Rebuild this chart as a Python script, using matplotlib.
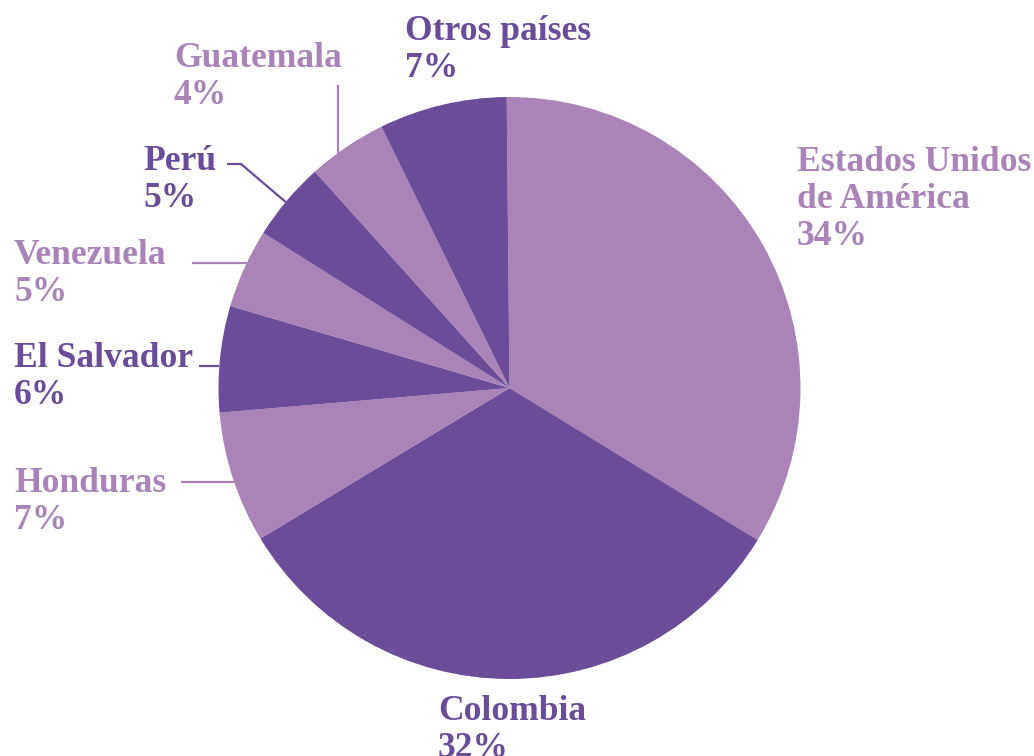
import numpy as np
import matplotlib
matplotlib.use("Agg")
import matplotlib.pyplot as plt

# ---- data ----
countries = ["Estados Unidos\nde América", "Colombia", "Honduras", "El Salvador",
             "Venezuela", "Perú", "Guatemala", "Otros países"]
shares = [33.9, 32.6, 7.3, 5.9, 4.4, 4.4, 4.4, 7.1]   # wedge sizes as drawn
pct_labels = ["34%", "32%", "7%", "6%", "5%", "5%", "4%", "7%"]

LIGHT = "#AA84B8"
DARK = "#6A4C98"
colors = [LIGHT, DARK, LIGHT, DARK, LIGHT, DARK, LIGHT, DARK]

W, H = 1034, 756
CX, CY, R = 509.5, 388, 291  # pixel layout (top-based y)

fig = plt.figure(figsize=(W / 100, H / 100), dpi=100)
ax = fig.add_axes([0, 0, 1, 1])
ax.pie(shares, colors=colors, startangle=90.55, counterclock=False,
       center=(CX, H - CY), radius=R, wedgeprops=dict(linewidth=0))
ax.set_xlim(0, W)
ax.set_ylim(0, H)
ax.set_aspect("equal")
ax.axis("off")

FS = 25.6
LS = 37  # baseline-to-baseline in px
font = dict(family="Liberation Serif", weight="bold", fontsize=FS)

# label layout: (x left, first baseline y (top-based))
label_pos = {
    "Estados Unidos\nde América": (797, 171),
    "Colombia": (438, 720),
    "Honduras": (14, 492),
    "El Salvador": (14, 367),
    "Venezuela": (14, 264),
    "Perú": (143, 170),
    "Guatemala": (174, 67),
    "Otros países": (405, 40),
}

for name, pl, col in zip(countries, pct_labels, colors):
    x, y = label_pos[name]
    lines = name.split("\n") + [pl]
    for i, ln in enumerate(lines):
        ax.text(x, H - (y + i * LS), ln, color=col, ha="left", va="baseline", **font)


def circ_x_at_y(y):
    return CX - np.sqrt(R ** 2 - (y - CY) ** 2)


def circ_y_at_x(x):
    return CY - np.sqrt(R ** 2 - (x - CX) ** 2)


def line(xs, ys, col):
    ax.plot(xs, [H - v for v in ys], color=col, lw=1.6, solid_capstyle="butt")


# leader lines (layout)
line([192, circ_x_at_y(263)], [263, 263], LIGHT)          # Venezuela
line([199, circ_x_at_y(366)], [366, 366], DARK)           # El Salvador
line([181, circ_x_at_y(482)], [482, 482], LIGHT)          # Honduras
line([338, 338], [85, circ_y_at_x(338)], LIGHT)           # Guatemala
d = np.hypot(225, 187)
line([227, 241, CX - 225 * R / d], [164, 164, CY - 187 * R / d], DARK)  # Perú

fig.savefig("out.png", dpi=100, facecolor="white")
